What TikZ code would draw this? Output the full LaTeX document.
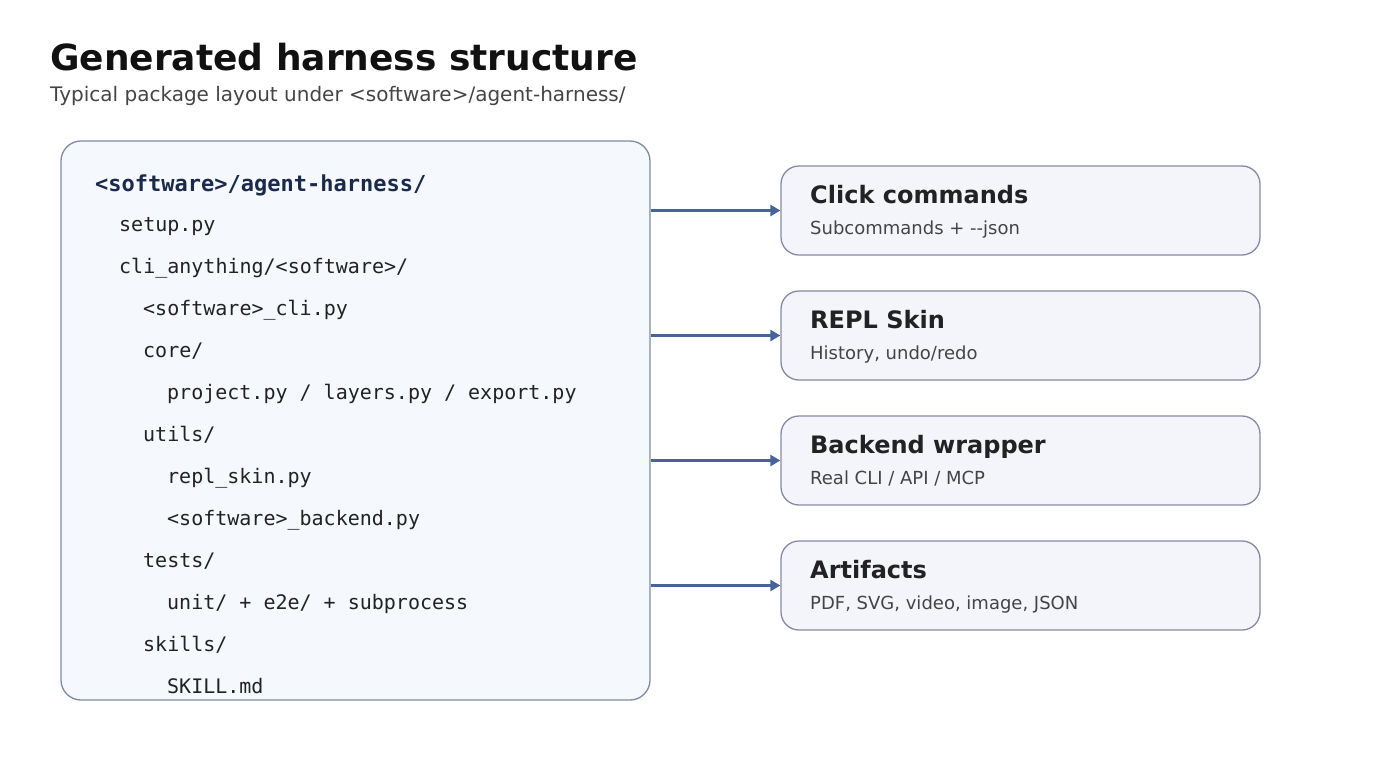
\documentclass[tikz,border=0pt]{standalone}
\usepackage{fontspec}
\setmainfont{DejaVu Sans}
\setmonofont{DejaVu Sans Mono}
\usetikzlibrary{arrows.meta}

\definecolor{titleink}{HTML}{111111}
\definecolor{subink}{HTML}{444444}
\definecolor{codeink}{HTML}{222222}
\definecolor{headink}{HTML}{1B2A4A}
\definecolor{treefill}{HTML}{F5F8FC}
\definecolor{treeline}{HTML}{7D8CA3}
\definecolor{cardfill}{HTML}{F4F5FA}
\definecolor{cardline}{HTML}{8888A6}
\definecolor{linkblue}{HTML}{46639A}

\tikzset{
  codeline/.style={anchor=base west, inner sep=0pt, text=codeink, font=\ttfamily\fontsize{20}{24}\selectfont},
  card/.style={draw=cardline, line width=1.3pt, fill=cardfill, rounded corners=18pt, minimum width=479pt, minimum height=89pt},
  cardtitle/.style={anchor=base west, inner sep=0pt, text=codeink, font=\bfseries\fontsize{24}{28}\selectfont},
  cardsub/.style={anchor=base west, inner sep=0pt, text=subink, font=\fontsize{18}{21}\selectfont},
  link/.style={draw=linkblue, line width=3pt, -{Triangle[length=10pt,width=11pt]}}
}

\begin{document}
\begin{tikzpicture}[x=1pt, y=-1pt]
\useasboundingbox (0,0) rectangle (1400,780);

\node[anchor=base west, inner sep=0pt, text=titleink, font=\bfseries\fontsize{36}{42}\selectfont] (title) at (50,70) {Generated harness structure};
\node[anchor=base west, inner sep=0pt, text=subink, font=\fontsize{20}{24}\selectfont] (subtitle) at (50,101) {Typical package layout under <software>/agent-harness/};

% package tree
\node[draw=treeline, line width=1.3pt, fill=treefill, rounded corners=20pt, minimum width=589pt, minimum height=559pt] (tree) at (355.5,420.5) {};
\node[anchor=base west, inner sep=0pt, text=headink, font=\ttfamily\bfseries\fontsize{22}{26}\selectfont] (root) at (95,191) {<software>/agent-harness/};
\node[codeline] (setup) at (119,231) {setup.py};
\node[codeline] (pkg) at (119,273) {cli\_anything/<software>/};
\node[codeline] (cli) at (143,315) {<software>\_cli.py};
\node[codeline] (core) at (143,357) {core/};
\node[codeline] (coremods) at (167,399) {project.py / layers.py / export.py};
\node[codeline] (utils) at (143,441) {utils/};
\node[codeline] (skin) at (167,483) {repl\_skin.py};
\node[codeline] (backend) at (167,525) {<software>\_backend.py};
\node[codeline] (tests) at (143,567) {tests/};
\node[codeline] (testkinds) at (167,609) {unit/ + e2e/ + subprocess};
\node[codeline] (skills) at (143,651) {skills/};
\node[codeline] (skillmd) at (167,693) {SKILL.md};

% cards
\node[card] (click) at (1020.5,210.5) {};
\node[cardtitle] at (810,203) {Click commands};
\node[cardsub] at (810,234) {Subcommands + -{}-json};

\node[card] (repl) at (1020.5,335.5) {};
\node[cardtitle] at (810,328) {REPL Skin};
\node[cardsub] at (810,359) {History, undo/redo};

\node[card] (wrap) at (1020.5,460.5) {};
\node[cardtitle] at (810,453) {Backend wrapper};
\node[cardsub] at (810,484) {Real CLI / API / MCP};

\node[card] (art) at (1020.5,585.5) {};
\node[cardtitle] at (810,578) {Artifacts};
\node[cardsub] at (810,609) {PDF, SVG, video, image, JSON};

\draw[link] (click.west -| tree.east) -- (click.west);
\draw[link] (repl.west -| tree.east) -- (repl.west);
\draw[link] (wrap.west -| tree.east) -- (wrap.west);
\draw[link] (art.west -| tree.east) -- (art.west);
\end{tikzpicture}
\end{document}
